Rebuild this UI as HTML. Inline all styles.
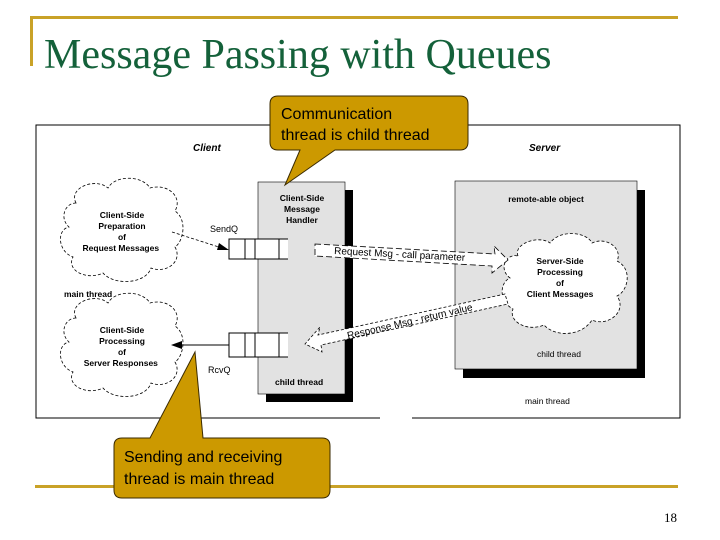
<!DOCTYPE html>
<html><head><style>
body{margin:0;width:720px;height:540px;background:#fff;overflow:hidden;position:relative;font-family:"Liberation Sans",sans-serif}
</style></head><body>
<svg width="720" height="540" style="position:absolute;left:0;top:0" font-family="Liberation Sans, sans-serif">
<rect x="30" y="16" width="648" height="3" fill="#C9A227"/>
<rect x="30" y="16" width="3" height="50" fill="#C9A227"/>
<rect x="35" y="485" width="643" height="3" fill="#C9A227"/>
<text x="44" y="68" font-family="Liberation Serif, serif" font-size="42" fill="#14613A">Message Passing with Queues</text>
<text x="664" y="522" font-family="Liberation Serif, serif" font-size="13" fill="#000">18</text>

<path d="M380,418 H36 V125 H680 V418 H412" fill="none" stroke="#000" stroke-width="1"/>
<text x="193" y="151" font-size="10" font-weight="bold" font-style="italic">Client</text>
<text x="529" y="151" font-size="10" font-weight="bold" font-style="italic">Server</text>

<rect x="266" y="190" width="87" height="212" fill="#000"/>
<rect x="258" y="182" width="87" height="212" fill="#e2e2e2" stroke="#000" stroke-width="0.6"/>
<text font-size="8.5" font-weight="bold" text-anchor="middle"><tspan x="302" y="201">Client-Side</tspan><tspan x="302" y="212">Message</tspan><tspan x="302" y="223">Handler</tspan></text>
<text x="275" y="385" font-size="8.5" font-weight="bold">child thread</text>

<rect x="463" y="190" width="182" height="188" fill="#000"/>
<rect x="455" y="181" width="182" height="188" fill="#e2e2e2" stroke="#000" stroke-width="0.6"/>
<text x="546" y="202" font-size="8.5" font-weight="bold" text-anchor="middle">remote-able object</text>
<text x="537" y="357" font-size="8.5">child thread</text>
<text x="525" y="404" font-size="8.5">main thread</text>

<g fill="#fff" stroke="#000" stroke-width="1">
<rect x="229" y="239" width="59" height="20" stroke="none"/>
<path d="M288,239 H229 V259 H288 M245,239 V259 M255,239 V259 M279,239 V259" fill="none"/>
<rect x="229" y="333" width="59" height="24" stroke="none"/>
<path d="M288,333 H229 V357 H288 M245,333 V357 M255,333 V357 M279,333 V357" fill="none"/>
</g>
<text x="210" y="232" font-size="9">SendQ</text>
<text x="208" y="373" font-size="9">RcvQ</text>
<text x="64" y="297" font-size="8.5" font-weight="bold">main thread</text>

<g fill="#fff" stroke="#000" stroke-width="0.8" stroke-dasharray="3,2">
<path d="M76,203 C68,188 95,177 108,188 C115,175 142,175 150,188 C168,183 183,197 175,211 C188,220 183,242 175,247 C183,261 167,274 151,268 C146,284 114,286 103,273 C86,281 66,270 73,257 C57,251 57,229 69,227 C59,218 65,203 76,203 Z"/>
<path d="M76,318 C68,303 95,292 108,303 C115,290 142,290 150,303 C168,298 183,312 175,326 C188,335 183,357 175,362 C183,376 167,389 151,383 C146,399 114,401 103,388 C86,396 66,385 73,372 C57,366 57,344 69,342 C59,333 65,318 76,318 Z"/>
<path d="M518,256 C513,243 540,235 550,243 C560,229 587,232 592,243 C607,236 623,249 617,261 C633,269 628,291 617,296 C628,312 607,327 592,320 C581,337 555,337 544,325 C528,332 508,322 513,309 C498,301 500,282 510,278 C498,269 506,253 518,256 Z"/>
</g>
<text font-size="8.5" font-weight="bold" text-anchor="middle">
<tspan x="122" y="218">Client-Side</tspan><tspan x="122" y="229">Preparation</tspan><tspan x="122" y="240">of</tspan><tspan x="122" y="251">Request Messages</tspan>
<tspan x="122" y="333">Client-Side</tspan><tspan x="122" y="344">Processing</tspan><tspan x="122" y="355">of</tspan><tspan x="122" y="366">Server Responses</tspan>
<tspan x="560" y="264">Server-Side</tspan><tspan x="560" y="275">Processing</tspan><tspan x="560" y="286">of</tspan><tspan x="560" y="297">Client Messages</tspan>
</text>

<path d="M172,232 L222,248" stroke="#000" stroke-width="0.8" stroke-dasharray="3,2"/>
<path d="M229,250 L219,243 L217,250 Z" fill="#000"/>
<path d="M229,345 H180" stroke="#000" stroke-width="1"/>
<path d="M171,345 L182,341 L182,349 Z" fill="#000"/>

<path d="M315,244 L495,254 L494,246 L508,260 L492,273 L492,266 L315,256 Z" fill="#fff" stroke="#000" stroke-width="0.8" stroke-dasharray="6,3"/>
<text x="334" y="254" font-size="10" transform="rotate(3 334 254)">Request Msg - call parameter</text>
<path d="M505,294 L318,335 L320,327 L305,344 L322,352 L321,345 L508,304 Z" fill="#fff" stroke="#000" stroke-width="0.8" stroke-dasharray="3,2"/>
<text x="348" y="339" font-size="10" transform="rotate(-13 348 339)">Response Msg - return value</text>

<path d="M280,96 H460 Q468,96 468,104 V142 Q468,150 460,150 H335 L285,185 L300,150 H278 Q270,150 270,142 V104 Q270,96 278,96 Z" fill="#CC9900" stroke="#3a2a00" stroke-width="1"/>
<text font-size="16" fill="#000"><tspan x="281" y="119">Communication</tspan><tspan x="281" y="140">thread is child thread</tspan></text>
<path d="M122,438 H150 L195,352 L203,438 H322 Q330,438 330,446 V490 Q330,498 322,498 H122 Q114,498 114,490 V446 Q114,438 122,438 Z" fill="#CC9900" stroke="#3a2a00" stroke-width="1"/>
<text font-size="16" fill="#000"><tspan x="124" y="462">Sending and receiving</tspan><tspan x="124" y="484">thread is main thread</tspan></text>
</svg>
</body></html>
